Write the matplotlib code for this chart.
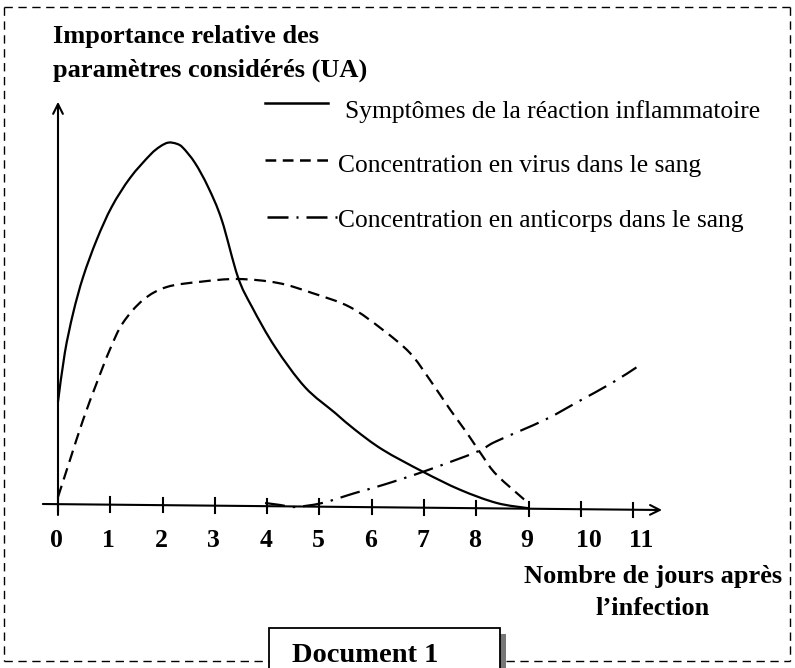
import matplotlib
matplotlib.use("Agg")
import matplotlib.pyplot as plt
from matplotlib.lines import Line2D
from matplotlib.patches import Rectangle, PathPatch
from matplotlib.path import Path
import numpy as np

# Values (x: days after infection, y: arbitrary units)
jours_symptomes = [0.0, 0.13, 0.29, 0.48, 0.74, 1.03, 1.38, 1.76, 1.95, 2.11,
                   2.27, 2.39, 2.62, 2.87, 3.13, 3.44, 3.71, 4.15, 4.72, 5.30,
                   5.68, 6.21, 6.98, 7.69, 8.39, 8.99]
symptomes = [2.58, 3.80, 4.80, 5.70, 6.63, 7.46, 8.18, 8.75, 8.96, 9.06,
             9.03, 8.93, 8.55, 7.95, 7.13, 5.70, 4.95, 3.95, 2.95, 2.30,
             1.88, 1.38, 0.83, 0.38, 0.05, -0.08]

jours_virus = [0.0, 0.23, 0.48, 0.74, 0.99, 1.24, 1.63, 2.08, 2.72, 3.44,
               4.21, 4.86, 5.58, 6.21, 6.73, 7.11, 7.50, 7.82, 8.13, 8.39, 8.99]
virus = [0.2, 1.13, 2.13, 3.05, 3.88, 4.55, 5.13, 5.45, 5.58, 5.65,
         5.55, 5.30, 4.95, 4.38, 3.80, 3.13, 2.38, 1.80, 1.20, 0.75, 0.05]

jours_anticorps = [3.96, 4.25, 4.53, 5.05, 5.68, 6.21, 6.98, 8.01, 8.36,
                   9.31, 9.94, 10.59, 11.06]
anticorps = [0.05, 0.0, -0.05, 0.05, 0.30, 0.50, 0.83, 1.33, 1.58,
             2.13, 2.58, 3.05, 3.44]

jours_ticks = list(range(12))

legende = ["Symptômes de la réaction inflammatoire",
           "Concentration en virus dans le sang",
           "Concentration en anticorps dans le sang"]

SERIF = ["Liberation Serif", "DejaVu Serif"]
W, H = 795, 668
FS_BOLD = 19
FS_LEG = 18.4
FS_TICK = 18.5


def fx(px):
    return px / W


def fy(py):
    return 1 - py / H


def axis_y(d):
    # the hand-drawn x axis is very slightly tilted
    return 0.025 - (d + 0.29) * 0.15 / 11.84


def smooth_path(xs, ys):
    """Cubic Bezier path passing through the read points (drawing only)."""
    p = np.column_stack([xs, ys]).astype(float)
    n = len(p)
    verts = [p[0]]
    codes = [Path.MOVETO]
    for i in range(n - 1):
        p0 = p[max(i - 1, 0)]
        p1, p2 = p[i], p[i + 1]
        p3 = p[min(i + 2, n - 1)]
        verts += [p1 + (p2 - p0) / 6, p2 - (p3 - p1) / 6, p2]
        codes += [Path.CURVE4] * 3
    return Path(verts, codes)


fig = plt.figure(figsize=(7.95, 6.68), dpi=100)
ax = fig.add_axes([0, 0, 1, 1])
ax.set_xlim(-58 / 52.3, (W - 58) / 52.3)
ax.set_ylim(-(H - 505) / 40, 505 / 40)
ax.axis("off")

# axes with arrows
arrow = dict(arrowstyle="->,head_length=0.7,head_width=0.35", lw=1.5,
             color="black", shrinkA=0, shrinkB=0)
ax.annotate("", xy=(0, 10.08), xytext=(0, -0.25), arrowprops=arrow)
ax.annotate("", xy=(11.55, axis_y(11.55)), xytext=(-0.29, axis_y(-0.29)),
            arrowprops=arrow)
for d in jours_ticks:
    ax.plot([d, d], [axis_y(d) - 0.18, axis_y(d) + 0.18], color="black", lw=1.5)
    # two-digit labels sit a little right of their tick in the document
    shift = 0.16 if d >= 10 else -0.03
    ax.text(d + shift, -1.05, str(d), ha="center", va="baseline",
            fontsize=FS_TICK, fontweight="bold", family=SERIF)

# curves
series = [(jours_symptomes, symptomes, "-"),
          (jours_virus, virus, (0, (5.3, 3))),
          (jours_anticorps, anticorps, (0, (9, 3.6, 1.1, 3.6)))]
for xs, ys, ls in series:
    ax.add_patch(PathPatch(smooth_path(xs, ys), fill=False, edgecolor="black",
                           lw=1.6, linestyle=ls, capstyle="butt"))

# titles
fig.text(fx(53), fy(43), "Importance relative des", fontsize=FS_BOLD,
         fontweight="bold", family=SERIF, va="baseline")
fig.text(fx(53), fy(77), "paramètres considérés (UA)", fontsize=FS_BOLD,
         fontweight="bold", family=SERIF, va="baseline")
fig.text(fx(653), fy(583), "Nombre de jours après", fontsize=FS_BOLD,
         fontweight="bold", family=SERIF, va="baseline", ha="center")
fig.text(fx(653), fy(615), "l\u2019infection", fontsize=FS_BOLD,
         fontweight="bold", family=SERIF, va="baseline", ha="center")

# hand-made legend
styles = [dict(), dict(dashes=(4.3, 2.6)), dict(dashes=(8.4, 3.2, 0.8, 3.2))]
leg_x = [(265, 328), (265, 328), (267, 337)]
leg_line_y = [103, 160, 217]
leg_text = [(345, 118), (338, 172), (338, 227)]
for lab, st, (x0, x1), ly, (tx, ty) in zip(legende, styles, leg_x,
                                           leg_line_y, leg_text):
    fig.add_artist(Line2D([fx(x0), fx(x1)], [fy(ly), fy(ly)], color="black",
                          lw=1.8, transform=fig.transFigure, **st))
    fig.text(fx(tx), fy(ty), lab, fontsize=FS_LEG, family=SERIF,
             va="baseline")

# dashed frame
frame = dict(color="black", lw=1.0, dashes=(6, 4), transform=fig.transFigure)
fig.add_artist(Line2D([fx(4), fx(790)], [fy(7), fy(7)], **frame))
fig.add_artist(Line2D([fx(4), fx(4)], [fy(7), fy(661)], **frame))
fig.add_artist(Line2D([fx(790), fx(790)], [fy(7), fy(661)], **frame))
fig.add_artist(Line2D([fx(4), fx(269)], [fy(661), fy(661)], **frame))
fig.add_artist(Line2D([fx(506), fx(790)], [fy(661), fy(661)], **frame))

# "Document 1" box with shadow
fig.add_artist(Rectangle((fx(500), fy(672)), fx(6), fy(634) - fy(672),
                         transform=fig.transFigure, facecolor="#777777",
                         edgecolor="none"))
fig.add_artist(Rectangle((fx(269), fy(672)), fx(231), fy(628) - fy(672),
                         transform=fig.transFigure, facecolor="white",
                         edgecolor="black", lw=1.3))
fig.text(fx(365), fy(662), "Document 1", fontsize=20.5, fontweight="bold",
         family=SERIF, va="baseline", ha="center")

fig.savefig("out.png", dpi=100)
